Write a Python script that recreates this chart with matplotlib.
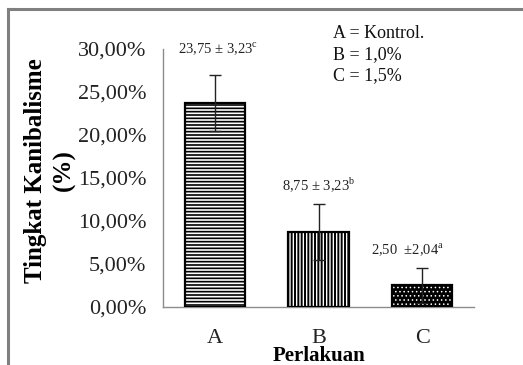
import matplotlib
matplotlib.use("Agg")
import matplotlib.pyplot as plt
from matplotlib.lines import Line2D
from matplotlib.ticker import FuncFormatter

plt.rcParams['font.family'] = ['Liberation Serif', 'DejaVu Serif']
plt.rcParams['mathtext.fontset'] = 'custom'
plt.rcParams['mathtext.rm'] = 'Liberation Serif'
plt.rcParams['hatch.linewidth'] = 1.2

# data
categories = ['A', 'B', 'C']
means = [23.75, 8.75, 2.50]
sds = [3.23, 3.23, 2.04]
labels = [r'23,75 ± 3,23$^{\mathrm{c}}$', r'8,75 ± 3,23$^{\mathrm{b}}$', r'2,50  ±2,04$^{\mathrm{a}}$']
label_y = [29.9, 14.2, 6.6]
label_dx = [0.03, 0.0, -0.14]
legend_lines = ['A = Kontrol.', 'B = 1,0%', 'C = 1,5%']
y_ticks = [0, 5, 10, 15, 20, 25, 30]

fig = plt.figure(figsize=(5.23, 3.65), dpi=100)
ax = fig.add_axes([0.3117, 0.1589, 0.5946, 0.7069])

x = range(len(categories))
hatches = ['-----', '|||||', '....']
faces = ['white', 'white', 'black']
hatch_cols = ['black', 'black', 'white']
hatch_lws = [1.2, 1.4, 0.6]
for i in x:
    with plt.rc_context({'hatch.linewidth': hatch_lws[i]}):
        ax.bar(i, means[i], width=0.58, color=faces[i], edgecolor=hatch_cols[i],
               hatch=hatches[i], linewidth=0, zorder=2)
    ax.bar(i, means[i], width=0.58, fill=False, edgecolor='black',
           linewidth=1.6, zorder=3)

ax.errorbar(list(x), means, yerr=sds, fmt='none', ecolor='#222222',
            elinewidth=1, capsize=4.5, capthick=1, zorder=4)

for i in x:
    ax.text(i + label_dx[i], label_y[i], labels[i], ha='center', va='center',
            fontsize=10.5, color='#222222')

ax.set_xlim(-0.5, 2.5)
ax.set_ylim(0, 30)
ax.set_yticks(y_ticks)
ax.yaxis.set_major_formatter(FuncFormatter(lambda v, p: f'{v:.2f}%'.replace('.', ',')))
ax.set_xticks(list(x))
ax.set_xticklabels(categories)
ax.tick_params(length=0, labelsize=16, colors='#222222')
ax.tick_params(axis='y', pad=12)
ax.tick_params(axis='x', pad=16)

for s in ['top', 'right']:
    ax.spines[s].set_visible(False)
for s in ['left', 'bottom']:
    ax.spines[s].set_color('#8c8c8c')
    ax.spines[s].set_linewidth(1)

ax.set_ylabel('Tingkat Kanibalisme\n(%)', fontsize=18, fontweight='bold',
              linespacing=1.3)
ax.yaxis.set_label_coords(-0.28, 0.53)
ax.set_xlabel('Perlakuan', fontsize=15, fontweight='bold')
ax.xaxis.set_label_coords(0.5, -0.152)

for j, t in enumerate(legend_lines):
    fig.text(333 / 523, 1 - (33 + 21.5 * j) / 365, t, fontsize=13,
             ha='left', va='center', color='#111111')

# outer frame (top and left edges)
fig.add_artist(Line2D([8 / 523, 1], [1 - 9 / 365, 1 - 9 / 365], color='#808080', lw=2.2))
fig.add_artist(Line2D([8 / 523, 8 / 523], [0, 1 - 9 / 365], color='#808080', lw=2.2))

fig.savefig('out.png', dpi=100)
